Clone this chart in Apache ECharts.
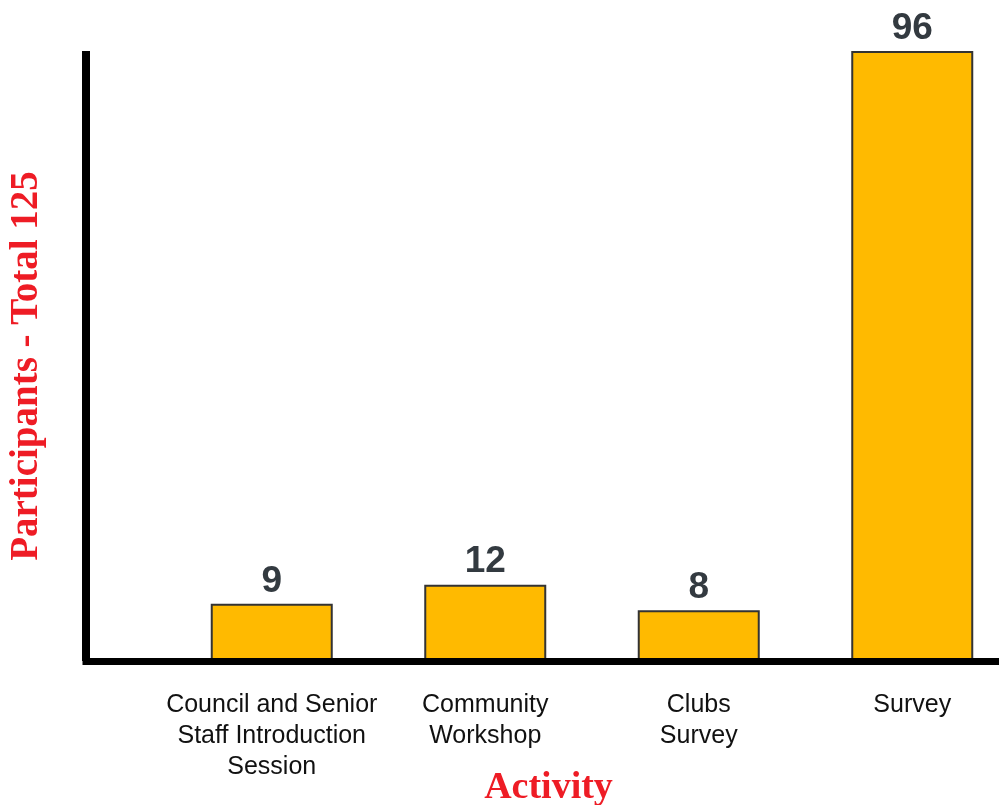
<!DOCTYPE html>
<html>
<head>
<meta charset="utf-8">
<script src="https://cdn.jsdelivr.net/npm/echarts@6/dist/echarts.min.js"></script>
<style>
html,body{margin:0;padding:0;background:#fff;}
#chart{width:999px;height:805px;}
</style>
</head>
<body>
<div id="chart"></div>
<script>
var categories = ['Council and Senior\nStaff Introduction\nSession', 'Community\nWorkshop', 'Clubs\nSurvey', 'Survey'];
var participants = [9, 12, 8, 96];
var yTitle = 'Participants - Total 125';
var xTitle = 'Activity';

var chart = echarts.init(document.getElementById('chart'));
var gridTop = 51, gridBottom = 144;
chart.setOption({
  animation: false,
  backgroundColor: '#ffffff',
  grid: [
    {left: 86, right: 0, top: gridTop, bottom: gridBottom, outerBoundsMode: 'none', containLabel: false},
    {left: 165, width: 854, top: gridTop, bottom: gridBottom, outerBoundsMode: 'none', containLabel: false}
  ],
  xAxis: [
    {
      gridIndex: 0, type: 'category', data: [''], z: 10,
      axisLine: {show: true, lineStyle: {color: '#000', width: 7, cap: 'square'}},
      axisTick: {show: false}, axisLabel: {show: false}, splitLine: {show: false},
      name: xTitle, nameLocation: 'middle', nameGap: 108,
      nameTextStyle: {fontFamily: 'Liberation Serif', fontWeight: 'bold', fontSize: 38, color: '#ee1c25', padding: [0, 0, 0, 12]}
    },
    {
      gridIndex: 1, type: 'category', data: categories,
      axisLine: {show: false}, axisTick: {show: false}, splitLine: {show: false},
      axisLabel: {margin: 29, fontFamily: 'Liberation Sans', fontSize: 25, lineHeight: 31, color: '#111', interval: 0}
    }
  ],
  yAxis: [
    {
      gridIndex: 0, type: 'value', min: 0, max: 96, z: 10,
      axisLine: {show: true, lineStyle: {color: '#000', width: 8, cap: 'butt'}},
      axisTick: {show: false}, axisLabel: {show: false}, splitLine: {show: false},
      name: yTitle, nameLocation: 'middle', nameGap: 40, nameRotate: 90,
      nameTextStyle: {fontFamily: 'Liberation Serif', fontWeight: 'bold', fontSize: 39, color: '#ee1c25', padding: [0, 20, 0, 0]}
    },
    {
      gridIndex: 1, type: 'value', min: 0, max: 96, show: false
    }
  ],
  series: [{
    type: 'bar',
    xAxisIndex: 1, yAxisIndex: 1,
    data: participants,
    barWidth: 122,
    itemStyle: {color: '#ffba00', borderColor: '#333333', borderWidth: 2},
    label: {
      show: true, position: 'top', distance: 4,
      fontFamily: 'Liberation Sans', fontWeight: 'bold', fontSize: 37, color: '#333a40'
    }
  }]
});
</script>
</body>
</html>
